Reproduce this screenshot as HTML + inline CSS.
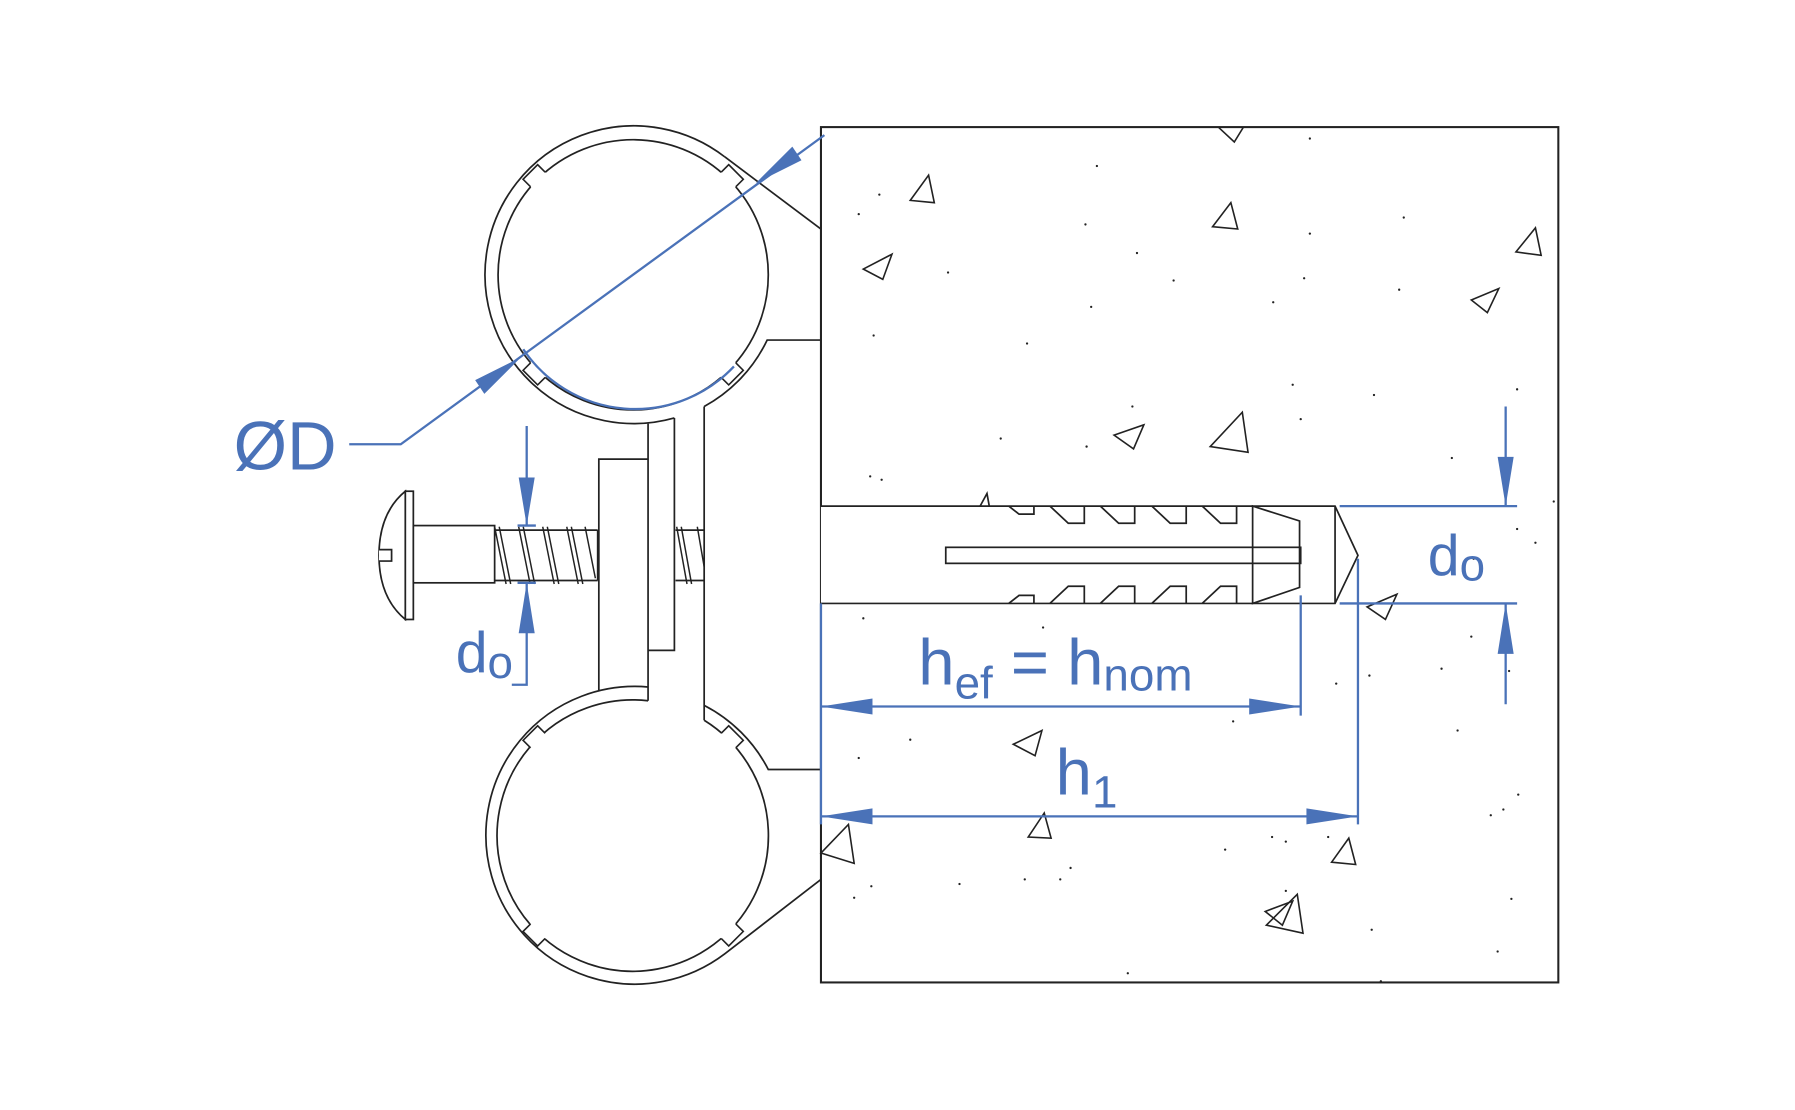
<!DOCTYPE html>
<html><head><meta charset="utf-8"><style>
html,body{margin:0;padding:0;background:#fff;}
svg{display:block;}
text{font-family:"Liberation Sans",Arial,sans-serif;fill:#4a72b8;}
</style></head><body>
<svg width="1795" height="1110" viewBox="0 0 1567.7 969.4" preserveAspectRatio="none" xmlns="http://www.w3.org/2000/svg">
<defs>
<g id="notch"><rect x="544" y="118" width="18" height="8" fill="#fff"/><path d="M544,122.3 L544,113 L562,113 L562,122.3" fill="none" stroke="#222" stroke-width="1.4"/></g>
</defs>
<g fill="none" stroke="#222" stroke-width="1.5">
<rect x="717" y="111" width="644" height="747" fill="#fff" stroke-width="1.8"/>
<!-- top clamp -->
<path d="M633,137 A130,130 0 1 0 589,365"/>
<path d="M633,137 L717,200"/>
<path d="M615,355 A130,130 0 0 0 670,297 L717,297"/>
<circle cx="553" cy="240" r="118"/>
<!-- bottom clamp -->
<path d="M566,600 A130,130 0 1 0 633,833 L717,768"/>
<path d="M615,616 A130,130 0 0 1 671,672 L717,672"/>
<path d="M615,629 A118.5,118.5 0 1 1 566,612"/>
<!-- middle strip & plate -->
<path d="M566,370 L566,612"/>
<path d="M589,365 L589,568 L566,568"/>
<path d="M615,355 L615,629"/>
<path d="M523,603 L523,401 L566,401"/>
<!-- screw -->
<path d="M354,429 Q331,448 331,485 Q331,522 354,541 Z" fill="#fff"/>
<rect x="354" y="429" width="7" height="112" fill="#fff"/>
<path d="M331,480 L342,480 L342,490 L331,490" fill="#fff"/>
<rect x="361" y="459" width="71" height="50" fill="#fff"/>
<path d="M432,463 L522,463 M432,507 L522,507 M522,463 L522,507"/>
<path d="M590,463 L615,463 M590,507 L615,507"/>
</g>
<g fill="none" stroke="#222" stroke-width="1.3">
<path d="M432,460 L442,510 M436,460 L446,510 M453,460 L463,510 M457,460 L467,510 M474,460 L484,510 M478,460 L488,510 M495,460 L505,510 M499,460 L509,510 M511,460 L520,505"/>
<path d="M591,460 L600,510 M595,460 L604,510 M609,460 L615,495"/>
</g>
<g transform="rotate(-45 553 240)"><use href="#notch"/></g>
<g transform="rotate(45 553 240)"><use href="#notch"/></g>
<g transform="rotate(-135 553 240)"><use href="#notch"/></g>
<g transform="rotate(135 553 240)"><use href="#notch"/></g>
<g transform="translate(0 490)">
<g transform="rotate(-45 553 240)"><use href="#notch"/></g>
<g transform="rotate(45 553 240)"><use href="#notch"/></g>
<g transform="rotate(-135 553 240)"><use href="#notch"/></g>
<g transform="rotate(135 553 240)"><use href="#notch"/></g>
</g>
<!-- anchor -->
<g fill="none" stroke="#222" stroke-width="1.5">
<path d="M717,442 L1166,442 L1186,485 L1166,527 L717,527" fill="#fff"/>
<path d="M1166,442 L1166,527"/>
<rect x="826" y="478" width="310" height="14"/>
<path d="M1094,442 L1135,455 L1135,513 L1094,527 Z"/>
<path d="M881,442 L890,449 L903,449 L903,442"/>
<path d="M917,442 L933,457 L947,457 L947,442 M961,442 L977,457 L991,457 L991,442 M1006,442 L1022,457 L1036,457 L1036,442 M1050,442 L1066,457 L1080,457 L1080,442"/>
<path d="M881,527 L890,520 L903,520 L903,527"/>
<path d="M917,527 L933,512 L947,512 L947,527 M961,527 L977,512 L991,512 L991,527 M1006,527 L1022,512 L1036,512 L1036,527 M1050,527 L1066,512 L1080,512 L1080,527"/>
<path d="M856,442 L862,431 L864,442"/>
</g>
<g fill="none" stroke="#222" stroke-width="1.4">
<path d="M1064,111 L1078,124 L1086,111"/>
<path d="M795,175 L811,153 L816,177 Z"/>
<path d="M1059,198 L1075,177 L1081,200 Z"/>
<path d="M754,235 L779,222 L771,244 Z"/>
<path d="M1324,220 L1341,199 L1346,223 Z"/>
<path d="M1285,262 L1309,252 L1299,273 Z"/>
<path d="M973,380 L999,371 L990,392 Z"/>
<path d="M1057,390 L1085,360 L1090,395 Z"/>
<path d="M1194,530 L1220,519 L1210,541 Z"/>
<path d="M885,650 L910,638 L904,660 Z"/>
<path d="M898,731 L912,710 L918,732 Z"/>
<path d="M717,745 L741,720 L746,754 Z"/>
<path d="M1163,753 L1178,732 L1184,755 Z"/>
<path d="M1106,808 L1133,781 L1138,815 Z"/>
<path d="M1105,796 L1129,787 L1120,808 Z"/>
</g>
<g fill="#222">
<circle cx="768" cy="170" r="1"/><circle cx="750" cy="187" r="1"/><circle cx="958" cy="145" r="1"/><circle cx="1144" cy="121" r="1"/>
<circle cx="948" cy="196" r="1"/><circle cx="993" cy="221" r="1"/><circle cx="1144" cy="204" r="1"/><circle cx="1226" cy="190" r="1"/>
<circle cx="828" cy="238" r="1"/><circle cx="1025" cy="245" r="1"/><circle cx="1139" cy="243" r="1"/><circle cx="1112" cy="264" r="1"/>
<circle cx="1222" cy="253" r="1"/><circle cx="953" cy="268" r="1"/><circle cx="763" cy="293" r="1"/><circle cx="897" cy="300" r="1"/>
<circle cx="1129" cy="336" r="1"/><circle cx="1200" cy="345" r="1"/><circle cx="1325" cy="340" r="1"/><circle cx="989" cy="355" r="1"/>
<circle cx="1136" cy="366" r="1"/><circle cx="874" cy="383" r="1"/><circle cx="949" cy="390" r="1"/><circle cx="1268" cy="400" r="1"/>
<circle cx="760" cy="416" r="1"/><circle cx="770" cy="419" r="1"/><circle cx="1357" cy="438" r="1"/><circle cx="1325" cy="462" r="1"/>
<circle cx="1341" cy="474" r="1"/><circle cx="1287" cy="488" r="1"/><circle cx="754" cy="540" r="1"/><circle cx="911" cy="548" r="1"/>
<circle cx="1285" cy="556" r="1"/><circle cx="1167" cy="597" r="1"/><circle cx="1196" cy="590" r="1"/><circle cx="1259" cy="584" r="1"/>
<circle cx="1318" cy="586" r="1"/><circle cx="1077" cy="630" r="1"/><circle cx="1273" cy="638" r="1"/><circle cx="795" cy="646" r="1"/>
<circle cx="750" cy="662" r="1"/><circle cx="1326" cy="694" r="1"/><circle cx="1302" cy="712" r="1"/><circle cx="1313" cy="707" r="1"/>
<circle cx="1111" cy="731" r="1"/><circle cx="1123" cy="735" r="1"/><circle cx="1070" cy="742" r="1"/><circle cx="1160" cy="731" r="1"/>
<circle cx="935" cy="758" r="1"/><circle cx="926" cy="768" r="1"/><circle cx="895" cy="768" r="1"/><circle cx="838" cy="772" r="1"/>
<circle cx="761" cy="774" r="1"/><circle cx="746" cy="784" r="1"/><circle cx="1123" cy="778" r="1"/><circle cx="1320" cy="785" r="1"/>
<circle cx="1198" cy="812" r="1"/><circle cx="1308" cy="831" r="1"/><circle cx="985" cy="850" r="1"/><circle cx="1206" cy="857" r="1"/>
</g>
<g fill="none" stroke="#4a72b8" stroke-width="2">
<path d="M305,388 L350,388 L720,118"/>
<path d="M457,305 A118,118 0 0 0 641,320"/>
<path d="M460,372 L460,459 M452,459 L468,459 M452,509 L468,509 M460,509 L460,598 L447,598"/>
<path d="M717,527 L717,720 M1136,520 L1136,625 M1186,488 L1186,720"/>
<path d="M717,617 L1136,617 M717,713 L1186,713"/>
<path d="M1170,442 L1325,442 M1170,527 L1325,527 M1315,355 L1315,442 M1315,527 L1315,615"/>
</g>
<g fill="#4a72b8">
<path d="M455,312 L423,344 L415,332 Z"/>
<path d="M660,160 L692,128 L700,140 Z"/>
<path d="M460,459 L453,417 L467,417 Z M460,509 L453,553 L467,553 Z"/>
<path d="M717,617 L762,610 L762,624 Z M1136,617 L1091,610 L1091,624 Z"/>
<path d="M717,713 L762,706 L762,720 Z M1186,713 L1141,706 L1141,720 Z"/>
<path d="M1315,442 L1308,399 L1322,399 Z M1315,527 L1308,571 L1322,571 Z"/>
</g>
<text x="204" y="410" font-size="60">ØD</text>
<text x="398" y="587" font-size="50">d<tspan font-size="40" dy="5">o</tspan></text>
<text x="1247" y="502" font-size="50">d<tspan font-size="40" dy="5">o</tspan></text>
<text x="802" y="598" font-size="57">h<tspan font-size="40" dy="12">ef</tspan><tspan dy="-12"> = h</tspan><tspan font-size="40" dy="5">nom</tspan></text>
<text x="922" y="694" font-size="57">h<tspan font-size="40" dy="11">1</tspan></text>
</svg>
</body></html>
